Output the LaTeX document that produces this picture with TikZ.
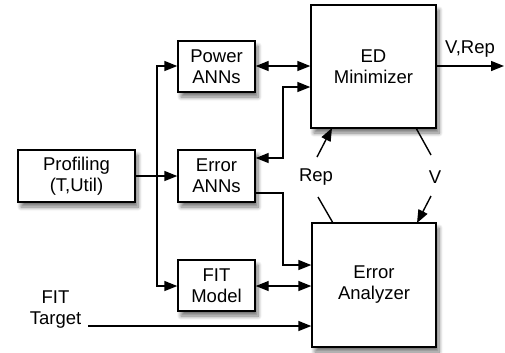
\documentclass[tikz,border=0pt]{standalone}
\usepackage{fontspec}
\setmainfont{Liberation Sans}
\usetikzlibrary{arrows.meta,shadows.blur}
\begin{document}
\begin{tikzpicture}[x=1bp,y=-1bp,
  every node/.style={font=\fontsize{18.5bp}{21bp}\selectfont, align=center, inner sep=0pt},
  box/.style={draw, line width=1.4bp, fill=white, blur shadow={shadow xshift=3bp, shadow yshift=-5bp, shadow blur steps=8, shadow blur radius=4bp, shadow opacity=55}},
  conn/.style={line width=1.4bp},
  tip/.style={-{Triangle[length=13bp,width=10bp]}},
  dtip/.style={{Triangle[length=13bp,width=10bp]}-{Triangle[length=13bp,width=10bp]}}
]
\useasboundingbox (0,0) rectangle (505,352);
% boxes
\node[box, minimum width=77bp, minimum height=51bp] (power) at (216.5,66.5) {Power\\ANNs};
\node[box, minimum width=117bp, minimum height=52bp] (prof) at (76.5,176) {Profiling\\(T,Util)};
\node[box, minimum width=77bp, minimum height=52bp] (err) at (216.5,176) {Error\\ANNs};
\node[box, minimum width=77bp, minimum height=51bp] (fit) at (216.5,285.5) {FIT\\Model};
\node[box, minimum width=125bp, minimum height=123bp] (ed) at (373.5,66.5) {ED\\Minimizer};
\node[box, minimum width=124bp, minimum height=124bp] (ea) at (374,285) {Error\\Analyzer};
% labels
\node (fitt) at (55.5,310) {FIT\\Target};
\node (vrep) at (470,49) {V,Rep};
\node (rep) at (316,177) {Rep};
\node (v) at (435,177) {V};
\coordinate (out) at (504,66);
\coordinate (trunk) at (157,176);
% connectors
\draw[conn] (prof.east) -- (trunk);
\draw[conn, tip] (trunk) -- (157,66) -- (power.west |- 0,66);
\draw[conn, tip] (trunk) -- (err.west);
\draw[conn, tip] (trunk) -- (157,286) -- (fit.west |- 0,286);
\draw[conn, dtip] (power.east |- 0,66) -- (ed.west |- 0,66);
\draw[conn, dtip] (err.east |- 0,158) -- (283,158) -- (283,87) -- (ed.west |- 0,87);
\draw[conn, tip] (err.east |- 0,193) -- (283,193) -- (283,265) -- (ea.west |- 0,265);
\draw[conn, dtip] (fit.east |- 0,286) -- (ea.west |- 0,286);
\draw[conn, tip] (88,326) -- (ea.west |- 0,326);
\draw[conn, tip] (ed.east |- 0,66) -- (out);
\draw[conn, tip] (317,157) -- (332,128);
\draw[conn] (318,197) -- (333,223);
\draw[conn] (416,128) -- (431,155);
\draw[conn, tip] (431,196) -- (417,223);
\end{tikzpicture}
\end{document}
